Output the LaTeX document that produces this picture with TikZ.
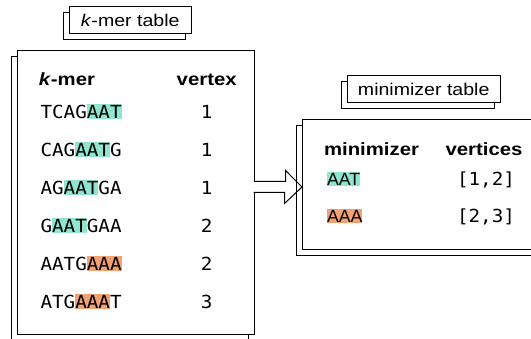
\documentclass[tikz,border=0pt]{standalone}
\usepackage{fontspec}
\setmainfont{Liberation Sans}[FakeStretch=1.15]
\newfontfamily\plainsf{Liberation Sans}
\setmonofont{DejaVu Sans Mono}[FakeStretch=1.07]
\usetikzlibrary{positioning,shadows}

\definecolor{mint}{RGB}{143,229,207}
\definecolor{peach}{RGB}{240,162,115}
% highlighted minimizer inside a k-mer
\newcommand\hl[2]{{\setlength\fboxsep{0pt}\colorbox{#1}{\rule[-0.5pt]{0pt}{14.5pt}#2}}}

\begin{document}
\begin{tikzpicture}[
        x=1pt, y=-1pt,
        line width=1pt,
        tablebox/.style={draw, fill=white, inner sep=0pt,
            copy shadow={shadow xshift=-6pt, shadow yshift=-6pt, fill=none, draw=black, line width=1pt}},
        tablename/.style={tablebox, font=\fontsize{17}{20}\selectfont},
        colhead/.style={inner sep=0pt, font=\fontsize{17.7}{20}\selectfont\bfseries},
        kmer/.style={inner sep=0pt, anchor=base west, font=\fontsize{18}{20}\selectfont\ttfamily},
        num/.style={inner sep=0pt, anchor=base, font=\fontsize{18}{20}\selectfont\ttfamily},
        minimer/.style={inner sep=0pt, anchor=base west, font=\fontsize{17.7}{20}\selectfont\plainsf},
        blockarrow/.style={draw, line width=1pt},
    ]
        \useasboundingbox (0,0) rectangle (531,339);

        \node[tablename, minimum width=121.7pt, minimum height=26.6pt] (ktitle) at (130.2,20) {\textit{k}-mer table};
        \node[tablename, minimum width=152.7pt, minimum height=27pt] (mtitle) at (423.7,89.2) {minimizer table};

        \node[tablebox, minimum width=236.3pt, minimum height=283.3pt] (kbox) at (135.9,192.4) {};
        \node[tablebox, minimum width=242.5pt, minimum height=130pt] (mbox) at (423.75,184.3) {};

        % k-mer table
        \node[colhead, anchor=base west] (kcol) at (38.3,86) {\textit{k}-mer};
        \node[colhead, anchor=base] (vcol) at (206.7,86) {vertex};

        \node[kmer] (r1) at (40,118.3) {TCAG\hl{mint}{AAT}};
        \node[below=38pt of r1.base west, kmer] (r2) {CAG\hl{mint}{AAT}G};
        \node[below=38pt of r2.base west, kmer] (r3) {AG\hl{mint}{AAT}GA};
        \node[below=38pt of r3.base west, kmer] (r4) {G\hl{mint}{AAT}GAA};
        \node[below=38pt of r4.base west, kmer] (r5) {AATG\hl{peach}{AAA}};
        \node[below=38pt of r5.base west, kmer] (r6) {ATG\hl{peach}{AAA}T};

        \node[below=32.3pt of vcol.base, num] (n1) {1};
        \node[below=38pt of n1.base, num] (n2) {1};
        \node[below=38pt of n2.base, num] (n3) {1};
        \node[below=38pt of n3.base, num] (n4) {2};
        \node[below=38pt of n4.base, num] (n5) {2};
        \node[below=38pt of n5.base, num] (n6) {3};

        % minimizer table
        \node[colhead, anchor=base west] (mcol) at (323.5,156) {minimizer};
        \node[colhead, anchor=base] (vscol) at (484,156) {vertices};

        \node[minimer] (m1) at (326.5,186) {\hl{mint}{AAT}};
        \node[below=36.7pt of m1.base west, minimer] (m2) {\hl{peach}{AAA}};

        \node[num] (l1) at (486,186) {[1,2]};
        \node[below=36.7pt of l1.base, num] (l2) {[2,3]};

        % block arrow between the tables
        \coordinate (tip) at ([yshift=-2.7pt]mbox.west);
        \coordinate (gap) at (kbox.east |- tip);
        \fill[white] ([shift={(-1,-5)}]gap) rectangle ([shift={(1,5)}]gap);
        \draw[blockarrow] (gap) ++(0,-5.5) -- ++(31,0) -- ++(0,-11) -- (tip)
            -- ++(-17.5,16.5) -- ++(0,-11) -- ++(-31,0);
    \end{tikzpicture}
\end{document}
